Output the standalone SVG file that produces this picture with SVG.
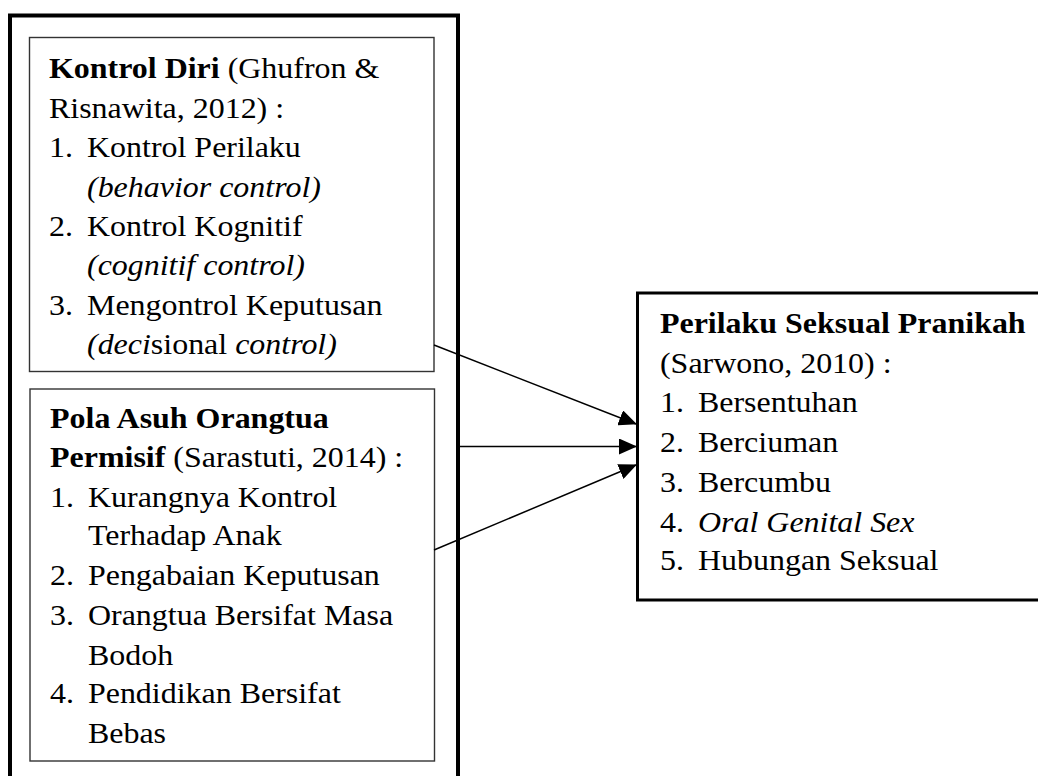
<svg xmlns="http://www.w3.org/2000/svg" width="1038" height="776" viewBox="0 0 1038 776">
<style>
text{font-family:"Liberation Serif","Times New Roman",serif;font-size:30px;fill:#000}
.b{font-weight:bold}
.i{font-style:italic}
.inner{fill:none;stroke:#333;stroke-width:1.4}
.conn{stroke:#000;stroke-width:1.5;fill:none}
</style>
<defs>
<marker id="ah" markerUnits="userSpaceOnUse" markerWidth="18" markerHeight="16" refX="17" refY="8" orient="auto">
<path d="M0,0 L18,8 L0,16 z" fill="#000"/>
</marker>
</defs>
<rect width="1038" height="776" fill="#fff"/>
<g id="outer">
<path d="M10,790 V15.5 H458 V790" fill="none" stroke="#000" stroke-width="4"/>
</g>
<g id="kontrol-diri">
<rect class="inner" x="29.5" y="37.5" width="404.5" height="334"/>
<g transform="matrix(1.065,0,0,1,0,0)">
<text x="46" y="78"><tspan class="b">Kontrol Diri</tspan> (Ghufron &amp;</text>
<text x="46" y="118">Risnawita, 2012) :</text>
<text x="46" y="157">1.</text><text x="81.7" y="157">Kontrol Perilaku</text>
<text x="81.7" y="197" class="i">(behavior control)</text>
<text x="46" y="236">2.</text><text x="81.7" y="236">Kontrol Kognitif</text>
<text x="81.7" y="275" class="i">(cognitif control)</text>
<text x="46" y="315">3.</text><text x="81.7" y="315">Mengontrol Keputusan</text>
<text x="81.7" y="354"><tspan class="i">(deci</tspan>sional <tspan class="i">control)</tspan></text>
</g>
</g>
<g id="pola-asuh">
<rect class="inner" x="30" y="389" width="404.5" height="372"/>
<g transform="matrix(1.065,0,0,1,0,0)">
<text x="47" y="428" class="b">Pola Asuh Orangtua</text>
<text x="47" y="467"><tspan class="b">Permisif</tspan> (Sarastuti, 2014) :</text>
<text x="47" y="507">1.</text><text x="82.6" y="507">Kurangnya Kontrol</text>
<text x="82.6" y="545">Terhadap Anak</text>
<text x="47" y="585">2.</text><text x="82.6" y="585">Pengabaian Keputusan</text>
<text x="47" y="625">3.</text><text x="82.6" y="625">Orangtua Bersifat Masa</text>
<text x="82.6" y="665">Bodoh</text>
<text x="47" y="703">4.</text><text x="82.6" y="703">Pendidikan Bersifat</text>
<text x="82.6" y="743">Bebas</text>
</g>
</g>
<g id="perilaku-seksual">
<path d="M1045,293 H637.5 V600 H1045" fill="none" stroke="#000" stroke-width="3"/>
<g transform="matrix(1.065,0,0,1,0,0)">
<text x="619.7" y="333" class="b">Perilaku Seksual Pranikah</text>
<text x="619.7" y="373">(Sarwono, 2010) :</text>
<text x="619.7" y="412">1.</text><text x="655.4" y="412">Bersentuhan</text>
<text x="619.7" y="452">2.</text><text x="655.4" y="452">Berciuman</text>
<text x="619.7" y="492">3.</text><text x="655.4" y="492">Bercumbu</text>
<text x="619.7" y="532">4.</text><text x="655.4" y="532" class="i">Oral Genital Sex</text>
<text x="619.7" y="570">5.</text><text x="655.4" y="570">Hubungan Seksual</text>
</g>
</g>
<g id="connectors">
<line class="conn" x1="434" y1="345" x2="636" y2="424" marker-end="url(#ah)"/>
<line class="conn" x1="459" y1="446.5" x2="636" y2="446.5" marker-end="url(#ah)"/>
<line class="conn" x1="434" y1="550" x2="636" y2="465" marker-end="url(#ah)"/>
</g>
</svg>
